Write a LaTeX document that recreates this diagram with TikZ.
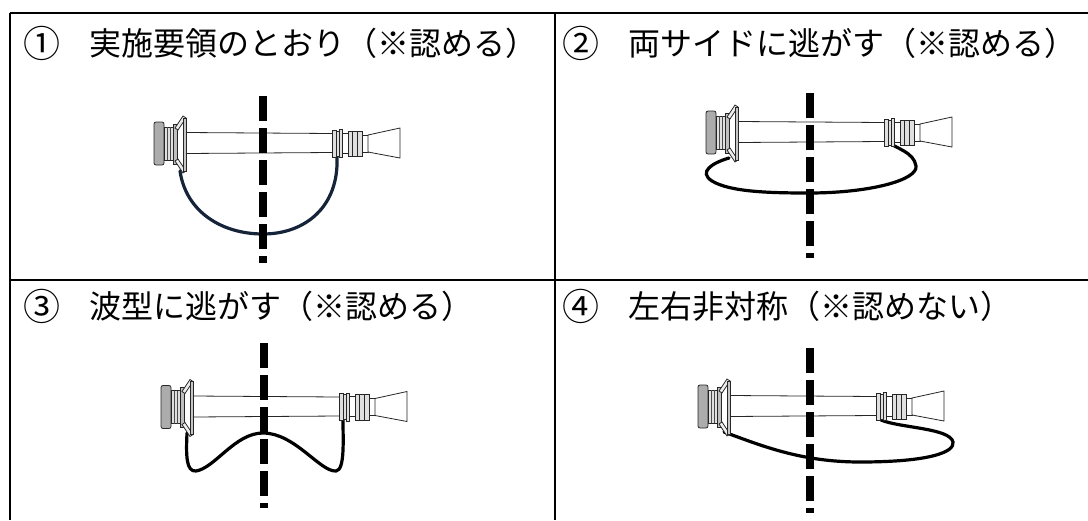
\documentclass[tikz,border=0pt]{standalone}
\usepackage{fontspec}
\newfontfamily\jfont{Noto Sans CJK JP}
\definecolor{hosenavy}{RGB}{22,36,58}
\begin{document}
\begin{tikzpicture}
   [x=1pt,y=-1pt,
    hdr/.style={anchor=west, inner sep=0pt, font=\jfont\fontsize{32}{32}\selectfont},
    num/.style={anchor=center, inner sep=0pt, font=\jfont\fontsize{37}{37}\selectfont},
    rule/.style={line width=1.4pt},
    cut/.style={line width=8pt, dash pattern=on 24.5pt off 7.5pt},
    hose/.style={line width=3.2pt, line cap=round},
    part/.style={draw=black!85, line width=0.8pt, fill=gray!25},
    nozzle/.pic={
      \filldraw[part, fill=gray!65, rounded corners=2pt] (-109,-21) rectangle (-99,22);
      \filldraw[part] (-99,-16) rectangle (-90,17);
      \draw[black!70] (-96,-16) -- (-96,17) (-93,-16) -- (-93,17);
      \filldraw[part, fill=gray!50] (-90,-19) rectangle (-86,21);
      \filldraw[part, fill=gray!15] (-88,-15) -- (-80,-27) -- (-77,-25) -- (-85,-13) -- cycle;
      \filldraw[part, fill=gray!15] (-88,18) -- (-80,30) -- (-77,28) -- (-85,16) -- cycle;
      \filldraw[part, fill=gray!45] (-80,-25) rectangle (-77,28);
      \draw[black!85, line width=0.8pt] (-77,-10.5) -- (69,-9.5) (-77,10.5) -- (69,9.5);
      \foreach \a/\b/\h in {69/73/13, 73/76/12, 76/79/13.5}
        \filldraw[part] (\a,-\h) rectangle (\b,\h+1);
      \filldraw[part, fill=white] (79,-10) rectangle (85,10);
      \foreach \a/\b in {85/89.5, 89.5/94, 94/99}
        \filldraw[part] (\a,-12) rectangle (\b,13.5);
      \filldraw[part, fill=white] (99,-8) rectangle (105,9);
      \filldraw[part, fill=white] (105,-8) -- (137,-15) -- (137,15) -- (105,9) -- cycle;
    }]
    \useasboundingbox (0,0) rectangle (1088,520);

    % table
    \draw[line width=2pt] (10,13) -- (1088,13);
    \draw[rule] (10,13) -- (10,520);
    \draw[rule] (555,13) -- (555,520);
    \draw[rule] (10,280) -- (1088,280);

    % headers
    \foreach \i/\x/\y/\mark/\txt in {1/35/43/①/実施要領のとおり（※認める）, 2/574/43/②/両サイドに逃がす（※認める）,
                                     3/35/306/③/波型に逃がす（※認める）, 4/574/306/④/左右非対称（※認めない）}
      {
        \node[num] (c\i) at (\x+7,\y) {\mark};
        \node[hdr] (t\i) at (\x+54,\y) {\txt};
      }

    % hoses
    \draw[hose, hosenavy] (180,171) .. controls (186,212) and (222,234) .. (263,234)
                                    .. controls (305,234) and (339,207) .. (337,157);
    \draw[hose] (729,158) .. controls (712,163) and (698,172) .. (712,181)
                          .. controls (730,192) and (770,193) .. (809,193)
                          .. controls (870,193) and (918,180) .. (916,166)
                          .. controls (914,152) and (895,148) .. (890,143);
    \draw[hose] (187,433) .. controls (186,455) and (186,472) .. (196,471)
                          .. controls (215,468) and (235,433) .. (263,433)
                          .. controls (295,433) and (320,472) .. (336,471)
                          .. controls (345,470) and (343,440) .. (343,420);
    \draw[hose] (724,432) .. controls (760,445) and (800,462) .. (860,462)
                          .. controls (930,462) and (955,452) .. (953,442)
                          .. controls (950,428) and (900,428) .. (881,420);

    % nozzles
    \foreach \p in {(263,143), (815,132), (270,406.5), (807,406)}
      \pic at \p {nozzle};

    % centre lines
    \foreach \x/\a/\b in {263/96/263, 809.5/93/258, 263.5/343/508, 809.5/348/513}
      \draw[cut] (\x,\a) -- (\x,\b);
\end{tikzpicture}
\end{document}
